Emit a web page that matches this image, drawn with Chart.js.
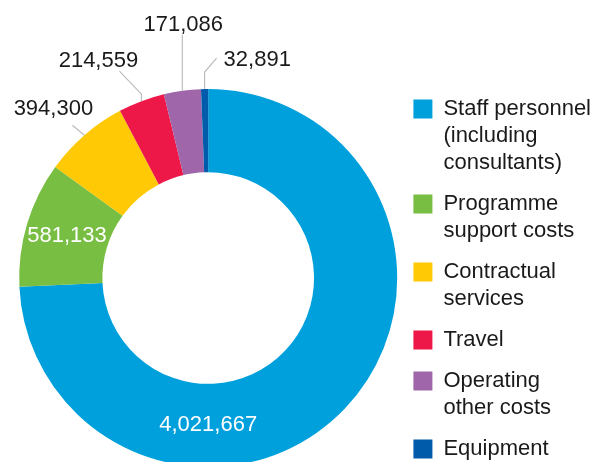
<!DOCTYPE html>
<html>
<head>
<meta charset="utf-8">
<script src="https://cdn.jsdelivr.net/npm/chart.js@4"></script>
<style>
  html, body { margin: 0; padding: 0; background: #fff; overflow: hidden; }
  #wrap { width: 602px; height: 462px; overflow: hidden; }
</style>
</head>
<body>
<div id="wrap"><canvas id="chart" width="602" height="526"></canvas></div>
<script>
const categories = [
  ["Staff personnel", "(including", "consultants)"],
  ["Programme", "support costs"],
  ["Contractual", "services"],
  ["Travel"],
  ["Operating", "other costs"],
  ["Equipment"]
];
const values = [4021667, 581133, 394300, 214559, 171086, 32891];
const colors = ["#00a0dc", "#78be43", "#ffc905", "#ee1848", "#a066aa", "#005baa"];

// where each value label goes: inside the ring, or outside with a leader line
const labelPlacement = [
  { inside: true, angle: Math.PI / 2 },
  { inside: true },
  { path: [[-12, -10]], dx: -19, dy: -10, align: "center" },
  { path: [[0, -7], [-22, -23]], dx: -21, dy: -4, align: "center" },
  { path: [[0, -56]], dx: 1, dy: -4, align: "center" },
  { path: [[0, -17], [12, -14]], dx: 7, dy: 8, align: "left" }
];

const FONT = "'Liberation Sans', Arial, Helvetica, sans-serif";

const valueLabels = {
  id: "valueLabels",
  afterDatasetsDraw(chart) {
    const ctx = chart.ctx;
    const meta = chart.getDatasetMeta(0);
    ctx.save();
    ctx.font = "22px " + FONT;
    meta.data.forEach((arc, i) => {
      const p = arc.getProps(["x", "y", "startAngle", "endAngle", "innerRadius", "outerRadius"], true);
      const opt = labelPlacement[i];
      const text = values[i].toLocaleString("en-US");
      const mid = opt.angle !== undefined ? opt.angle : (p.startAngle + p.endAngle) / 2;
      if (opt.inside) {
        const r = (p.innerRadius + p.outerRadius) / 2;
        ctx.fillStyle = "#fff";
        ctx.textAlign = "center";
        ctx.textBaseline = "middle";
        ctx.fillText(text, p.x + Math.cos(mid) * r, p.y + Math.sin(mid) * r);
        return;
      }
      let x = p.x + Math.cos(mid) * p.outerRadius;
      let y = p.y + Math.sin(mid) * p.outerRadius;
      ctx.strokeStyle = "#bcbcbc";
      ctx.lineWidth = 1.2;
      ctx.beginPath();
      ctx.moveTo(x, y);
      opt.path.forEach(([ddx, ddy]) => {
        x += ddx; y += ddy;
        ctx.lineTo(x, y);
      });
      ctx.stroke();
      ctx.fillStyle = "#1a1a1a";
      ctx.textAlign = opt.align;
      ctx.textBaseline = "alphabetic";
      ctx.fillText(text, x + opt.dx, y + opt.dy);
    });
    ctx.restore();
  }
};

new Chart(document.getElementById("chart"), {
  type: "doughnut",
  data: {
    labels: categories,
    datasets: [{
      data: values,
      backgroundColor: colors,
      borderWidth: 0,
      radius: 189,
      cutout: "56%"
    }]
  },
  options: {
    responsive: false,
    animation: false,
    layout: { padding: { left: 17, right: 1, top: 30, bottom: 0 } },
    plugins: {
      tooltip: { enabled: false },
      legend: {
        position: "right",
        align: "start",
        title: { display: true, text: "", font: { size: 12, lineHeight: "12px" }, padding: { top: 0, bottom: 42 } },
        labels: {
          boxWidth: 19,
          boxHeight: 19,
          padding: 14,
          color: "#1a1a1a",
          font: { family: FONT, size: 22, lineHeight: "27px" }
        }
      }
    }
  },
  plugins: [valueLabels]
});
</script>
</body>
</html>
